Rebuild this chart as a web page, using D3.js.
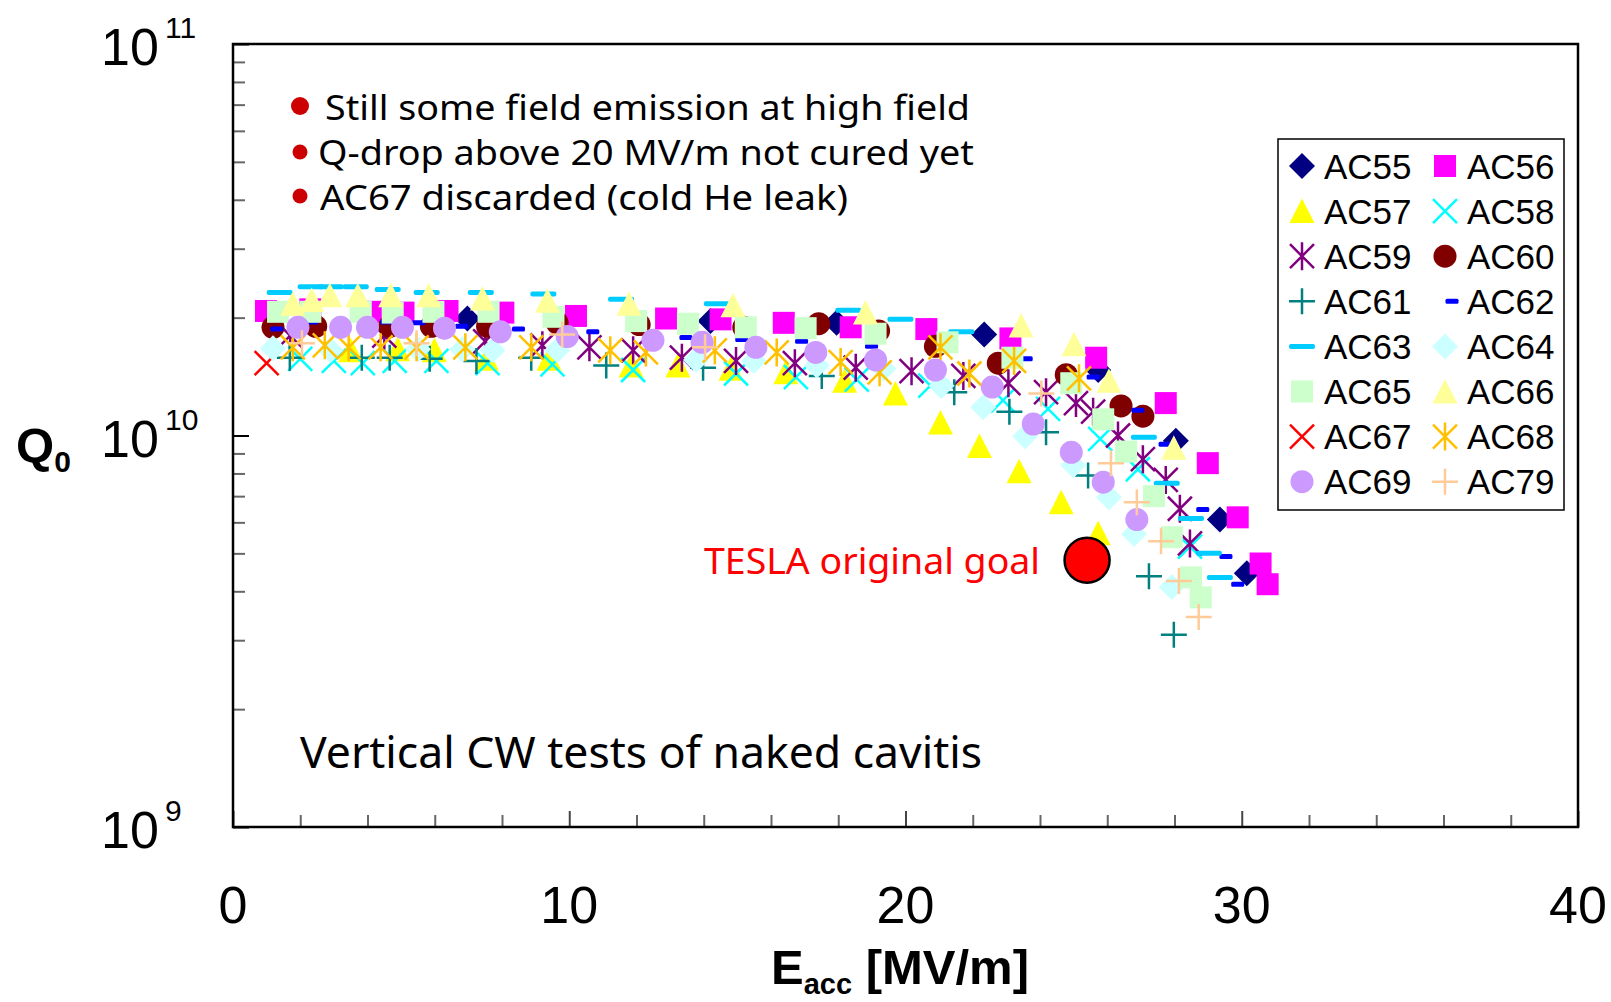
<!DOCTYPE html>
<html><head><meta charset="utf-8">
<script src="https://cdn.jsdelivr.net/npm/d3@7"></script>
<style>body{margin:0;background:#fff}svg{display:block}</style>
</head><body>
<svg id="c" width="1611" height="1002"></svg>
<script>
// ---------- data ----------
const seriesNames = ["AC55","AC56","AC57","AC58","AC59","AC60","AC61","AC62","AC63","AC64","AC65","AC66","AC67","AC68","AC69","AC79"];
const seriesColors = ["#000080","#FF00FF","#FFFF00","#00FFFF","#800080","#800000","#008080","#0000FF","#00CCFF","#CCFFFF","#CCFFCC","#FFFF99","#FF0000","#FFC000","#CC99FF","#FFCC99"];
const seriesShapes = ["diamond","square","triangle","x","asterisk","circle","plus","dashS","dashL","diamond","square","triangle","x","asterisk","circle","plus"];

const AC55 = [[6.97,1.99e10],[14.2,1.96e10],[17.95,1.94e10],[22.34,1.81e10],[25.73,1.47e10],[28.04,9.7e9],[29.35,6.1e9],[30.15,4.45e9]];
const AC56 = [[0.98,2.08e10],[2.3,2.1e10],[4.2,2.07e10],[5.07,2.06e10],[6.38,2.08e10],[8.04,2.06e10],[10.2,2.02e10],[12.88,1.99e10],[14.5,1.98e10],[16.38,1.94e10],[18.37,1.89e10],[20.62,1.87e10],[23.12,1.77e10],[25.67,1.58e10],[27.74,1.21e10],[28.99,8.5e9],[29.88,6.18e9],[30.56,4.71e9],[30.77,4.17e9]];
const AC57 = [[3.5,1.65e10],[4.9,1.66e10],[5.99,1.65e10],[7.54,1.57e10],[9.4,1.57e10],[11.84,1.51e10],[13.23,1.51e10],[14.81,1.48e10],[16.44,1.45e10],[18.19,1.38e10],[19.7,1.28e10],[21.04,1.08e10],[22.2,9.4e9],[23.38,8.1e9],[24.63,6.75e9],[25.73,5.63e9]];
const AC58 = [[2.0,1.57e10],[3.0,1.55e10],[3.86,1.53e10],[4.81,1.55e10],[6.05,1.55e10],[7.57,1.53e10],[9.5,1.52e10],[11.9,1.47e10],[14.96,1.44e10],[16.74,1.41e10],[18.55,1.39e10],[20.74,1.34e10],[22.9,1.23e10],[24.24,1.17e10],[25.79,9.8e9],[26.91,8.2e9],[28.46,5.2e9]];
const AC59 = [[1.7,1.8e10],[4.5,1.8e10],[7.5,1.74e10],[9.2,1.7e10],[10.6,1.68e10],[11.9,1.65e10],[13.35,1.58e10],[14.96,1.55e10],[16.71,1.53e10],[18.52,1.49e10],[20.18,1.46e10],[21.72,1.42e10],[23.06,1.36e10],[24.18,1.29e10],[25.07,1.21e10],[25.58,1.15e10],[26.32,1.0e10],[27.06,8.7e9],[27.74,7.7e9],[28.16,6.5e9],[28.46,5.3e9]];
const AC60 = [[1.19,1.89e10],[2.46,1.9e10],[4.66,1.9e10],[5.9,1.9e10],[7.57,1.9e10],[9.64,1.94e10],[12.08,1.92e10],[15.19,1.89e10],[17.42,1.93e10],[19.2,1.85e10],[20.89,1.69e10],[22.76,1.53e10],[24.78,1.43e10],[26.41,1.19e10],[27.06,1.12e10]];
const AC61 = [[1.69,1.58e10],[3.83,1.58e10],[4.66,1.58e10],[5.85,1.57e10],[7.24,1.55e10],[8.87,1.58e10],[11.1,1.51e10],[13.98,1.49e10],[17.51,1.42e10],[21.45,1.29e10],[23.09,1.15e10],[24.18,1.02e10],[25.43,7.9e9],[27.24,4.37e9],[27.98,3.1e9]];
const AC62 = [[1.3,1.87e10],[2.35,1.95e10],[4.57,1.95e10],[5.52,1.94e10],[6.8,1.9e10],[8.49,1.87e10],[10.7,1.84e10],[13.47,1.78e10],[15.13,1.76e10],[16.91,1.74e10],[18.99,1.69e10],[23.59,1.57e10],[25.58,1.41e10],[26.91,1.16e10],[27.72,9.5e9],[28.84,6.47e9],[29.53,4.91e9],[29.88,4.17e9]];
const AC63 = [[1.39,2.32e10],[2.31,2.4e10],[2.9,2.4e10],[3.65,2.4e10],[4.6,2.36e10],[5.76,2.32e10],[7.37,2.32e10],[9.23,2.3e10],[11.54,2.23e10],[14.39,2.17e10],[18.3,2.09e10],[19.85,1.98e10],[21.66,1.84e10],[27.09,9.9e9],[27.77,7.55e9],[28.49,6.14e9],[29.02,5.0e9],[29.35,4.34e9]];
const AC64 = [[1.19,1.67e10],[2.9,1.65e10],[5.5,1.66e10],[6.82,1.66e10],[7.72,1.65e10],[9.64,1.65e10],[13.77,1.56e10],[15.49,1.55e10],[17.36,1.51e10],[19.35,1.48e10],[21.07,1.34e10],[22.31,1.18e10],[23.56,9.95e9],[24.99,8.4e9],[26.05,6.95e9],[26.8,5.6e9],[27.92,4.1e9]];
const AC65 = [[1.34,2.07e10],[2.3,2.07e10],[3.8,2.07e10],[4.75,2.06e10],[5.96,2.07e10],[7.6,2.07e10],[9.53,2.01e10],[11.99,1.96e10],[13.53,1.93e10],[15.25,1.89e10],[17.03,1.88e10],[19.11,1.82e10],[21.25,1.73e10],[23.18,1.58e10],[24.93,1.36e10],[25.88,1.1e10],[26.56,9.1e9],[27.39,7.0e9],[27.92,5.5e9],[28.49,4.34e9],[28.78,3.86e9]];
const AC66 = [[1.78,2.17e10],[2.34,2.22e10],[2.88,2.28e10],[3.71,2.28e10],[4.69,2.28e10],[5.82,2.28e10],[7.42,2.24e10],[9.35,2.21e10],[11.78,2.17e10],[14.87,2.15e10],[18.81,2.06e10],[23.44,1.91e10],[25.01,1.71e10],[26.05,1.38e10],[27.98,9.3e9]];
const AC67 = [[1.0,1.53e10]];
const AC68 = [[1.78,1.68e10],[2.73,1.7e10],[3.44,1.68e10],[4.39,1.68e10],[5.46,1.68e10],[6.91,1.68e10],[8.87,1.68e10],[11.22,1.65e10],[12.28,1.63e10],[14.33,1.65e10],[16.17,1.63e10],[18.07,1.54e10],[19.23,1.45e10],[21.04,1.68e10],[21.9,1.44e10],[23.23,1.55e10],[25.16,1.4e10]];
const AC69 = [[1.93,1.89e10],[3.2,1.89e10],[4.0,1.89e10],[5.04,1.89e10],[6.29,1.88e10],[7.95,1.84e10],[9.94,1.79e10],[12.49,1.75e10],[13.95,1.73e10],[15.55,1.68e10],[17.33,1.63e10],[19.11,1.56e10],[20.89,1.47e10],[22.58,1.33e10],[23.8,1.07e10],[24.93,9.06e9],[25.88,7.6e9],[26.88,6.1e9]];
const AC79 = [[2.05,1.72e10],[5.46,1.72e10],[9.79,1.81e10],[14.04,1.68e10],[24.04,1.28e10],[26.11,8.5e9],[26.88,6.75e9],[27.6,5.37e9],[28.13,4.25e9],[28.72,3.44e9]];
const seriesData = [AC55,AC56,AC57,AC58,AC59,AC60,AC61,AC62,AC63,AC64,AC65,AC66,AC67,AC68,AC69,AC79];
// AC67 (discarded) sits underneath the others
const drawOrder = [12,0,1,2,3,4,5,6,7,8,9,10,11,13,14,15];

const goalPoint = [25.4, 4.8e9];
const goalText = "TESLA original goal";
const notes = ["Still some field emission at high field","Q-drop above 20 MV/m not cured yet","AC67 discarded (cold He leak)"];
const footNote = "Vertical CW tests of naked cavitis";
const xTickLabels = [0,10,20,30,40];
const xMinorTicks = d3.range(0,41,2);
const yTickExps = [9,10,11];

// ---------- layout ----------
const svg = d3.select("#c");
const L = 233, R = 1578, T = 44, B = 827;
const x = d3.scaleLinear().domain([0,40]).range([L,R]);
const y = d3.scaleLog().domain([1e9,1e11]).range([B,T]);
const ARIAL = "'Liberation Sans', Arial, sans-serif";
const CASUAL = "'Noto Sans', 'DejaVu Sans', sans-serif";

// ---------- axes (inward ticks) ----------
const yMinor = [];
yTickExps.forEach(e => { if (e < 11) for (let k=1;k<10;k++) yMinor.push(k*Math.pow(10,e)); });
yMinor.push(1e11);
const isMajor = d => yTickExps.some(e => Math.abs(d-Math.pow(10,e))<1);
const gy = svg.append("g").attr("transform",`translate(${L},0)`)
  .call(d3.axisLeft(y).tickValues(yMinor).tickSizeInner(-12).tickSizeOuter(0).tickFormat(""));
gy.select(".domain").remove();
gy.selectAll(".tick line").attr("stroke-width",2)
  .attr("stroke", d => isMajor(d) ? "#000" : "#666")
  .attr("x2", d => isMajor(d) ? 16 : 12);

const gx = svg.append("g").attr("transform",`translate(0,${B})`)
  .call(d3.axisBottom(x).tickValues(xMinorTicks).tickSizeInner(-12).tickSizeOuter(0).tickFormat(""));
gx.select(".domain").remove();
gx.selectAll(".tick line").attr("stroke-width",2)
  .attr("stroke", d => d%10===0 ? "#444" : "#666")
  .attr("y2", d => d%10===0 ? -16 : -12);

// x tick labels
svg.append("g").selectAll("text").data(xTickLabels).join("text")
  .attr("x", d => x(d)).attr("y", 923).attr("text-anchor","middle")
  .attr("font-family",ARIAL).attr("font-size",52).text(d => d);

// y tick labels 10^n
const yl = svg.append("g").selectAll("g").data(yTickExps).join("g");
yl.append("text").attr("x",101).attr("y", d => y(Math.pow(10,d))+21)
  .attr("font-family",ARIAL).attr("font-size",52).text("10");
yl.append("text").attr("x",165).attr("y", d => y(Math.pow(10,d))-6)
  .attr("font-family",ARIAL).attr("font-size",30).text(d => d);

// axis titles
const qt = svg.append("text").attr("x",16).attr("y",462).attr("font-family",ARIAL).attr("font-weight","bold");
qt.append("tspan").attr("font-size",49).text("Q");
qt.append("tspan").attr("font-size",30).attr("dy",10).text("0");

const et = svg.append("text").attr("x",771).attr("y",984).attr("font-family",ARIAL).attr("font-weight","bold");
et.append("tspan").attr("font-size",49).text("E");
et.append("tspan").attr("font-size",29).attr("dy",10).text("acc");
et.append("tspan").attr("font-size",49).attr("dy",-10).text(" [MV/m]");

// ---------- symbols ----------
function drawSym(g, shape, color){
  switch(shape){
    case "diamond": g.append("path").attr("d","M0,-13L13,0L0,13L-13,0Z").attr("fill",color); break;
    case "square": g.append("rect").attr("x",-11).attr("y",-11).attr("width",22).attr("height",22).attr("fill",color); break;
    case "triangle": g.append("path").attr("d","M0,-12.5L12.5,12L-12.5,12Z").attr("fill",color); break;
    case "circle": g.append("circle").attr("r",11.5).attr("fill",color); break;
    case "x": g.append("path").attr("d","M-12,-12L12,12M-12,12L12,-12").attr("stroke",color).attr("stroke-width",2.5).attr("fill","none"); break;
    case "asterisk": g.append("path").attr("d","M-12,-12L12,12M-12,12L12,-12M0,-14L0,14").attr("stroke",color).attr("stroke-width",2.5).attr("fill","none"); break;
    case "plus": g.append("path").attr("d","M-13,0L13,0M0,-13L0,13").attr("stroke",color).attr("stroke-width",2.5).attr("fill","none"); break;
    case "dashL": g.append("rect").attr("x",-13).attr("y",-2.5).attr("width",26).attr("height",5).attr("rx",2).attr("fill",color); break;
    case "dashS": g.append("rect").attr("x",-6.5).attr("y",-2.5).attr("width",13).attr("height",5).attr("rx",1.5).attr("fill",color); break;
  }
}

// ---------- data marks ----------
const plot = svg.append("g");
drawOrder.forEach(i => {
  plot.append("g").selectAll("g").data(seriesData[i]).join("g")
    .attr("transform", d => `translate(${x(d[0])},${y(d[1])})`)
    .each(function(){ drawSym(d3.select(this), seriesShapes[i], seriesColors[i]); });
});

// frame
svg.append("rect").attr("x",L).attr("y",T).attr("width",R-L).attr("height",B-T)
  .attr("fill","none").attr("stroke","#000").attr("stroke-width",2.5);

// ---------- annotations ----------
const noteY = [120,165,210];
const noteX = [325,318,320];
const noteW = [645,656,528];
const bulletY = [106,152,196];
const bulletR = [9,7.5,7.5];
notes.forEach((t,i) => {
  svg.append("circle").attr("cx",300).attr("cy",bulletY[i]).attr("r",bulletR[i]).attr("fill","#CC0000");
  svg.append("text").attr("x",noteX[i]).attr("y",noteY[i]).attr("font-family",CASUAL).attr("font-size",35)
    .attr("textLength",noteW[i]).attr("lengthAdjust","spacingAndGlyphs").text(t);
});
svg.append("text").attr("x",300).attr("y",768).attr("font-family",CASUAL).attr("font-size",43)
  .attr("textLength",682).attr("lengthAdjust","spacingAndGlyphs").text(footNote);

svg.append("circle").attr("cx",x(goalPoint[0])).attr("cy",y(goalPoint[1])).attr("r",22.5)
  .attr("fill","#FF0000").attr("stroke","#000").attr("stroke-width",2.5);
svg.append("text").attr("x",704).attr("y",574).attr("font-family",CASUAL).attr("font-size",36).attr("fill","#FF0000")
  .attr("textLength",336).attr("lengthAdjust","spacingAndGlyphs").text(goalText);

// ---------- legend ----------
const lg = svg.append("g");
lg.append("rect").attr("x",1278).attr("y",139).attr("width",286).attr("height",371)
  .attr("fill","#fff").attr("stroke","#000").attr("stroke-width",1.5);
seriesNames.forEach((n,i) => {
  const col = i%2, row = Math.floor(i/2);
  const cy = 166 + row*45.1;
  const sx = col===0 ? 1302 : 1445;
  const tx = col===0 ? 1324 : 1467;
  const g = lg.append("g").attr("transform",`translate(${seriesShapes[i]==="dashS" ? sx+7 : sx},${cy})`);
  drawSym(g, seriesShapes[i], seriesColors[i]);
  lg.append("text").attr("x",tx).attr("y",cy+12.5).attr("font-family",ARIAL).attr("font-size",35).text(n);
});
</script>
</body></html>
